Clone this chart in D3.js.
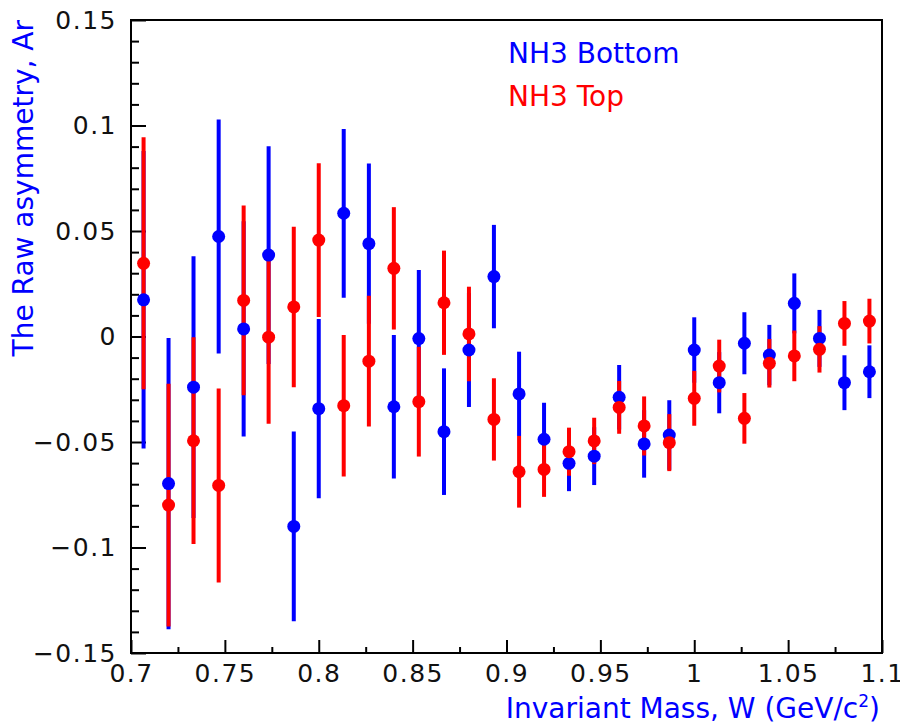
<!DOCTYPE html>
<html lang="en">
	<head>
		<meta charset="utf-8">
		<title>Raw asymmetry vs invariant mass</title>
		<script src="https://d3js.org/d3.v7.min.js"></script>
		<style>
			body { margin: 0; background: #fff; }
			text { font-family: "DejaVu Sans", sans-serif; }
		</style>
	</head>
	<body>
		<script type="text/javascript">

			//Bin centres (W, GeV/c^2)
			var wBins = [0.7067, 0.7200, 0.7333, 0.7467, 0.7600, 0.7733, 0.7867, 0.8000, 0.8133, 0.8267,
			             0.8400, 0.8533, 0.8667, 0.8800, 0.8933, 0.9067, 0.9200, 0.9333, 0.9467, 0.9600,
			             0.9733, 0.9867, 1.0000, 1.0133, 1.0267, 1.0400, 1.0533, 1.0667, 1.0800, 1.0933];

			//NH3 Bottom
			var bottomAr = [0.0174, -0.0697, -0.0240, 0.0474, 0.0036, 0.0386, -0.0900, -0.0342, 0.0584, 0.0440,
			                -0.0333, -0.0010, -0.0451, -0.0064, 0.0284, -0.0272, -0.0487, -0.0601, -0.0567, -0.0288,
			                -0.0509, -0.0467, -0.0064, -0.0219, -0.0032, -0.0088, 0.0157, -0.0009, -0.0219, -0.0167];
			var bottomErr = [0.0705, 0.0690, 0.0620, 0.0555, 0.0510, 0.0516, 0.0450, 0.0425, 0.0400, 0.0380,
			                 0.0340, 0.0325, 0.0300, 0.0270, 0.0245, 0.0200, 0.0173, 0.0132, 0.0137, 0.0153,
			                 0.0160, 0.0165, 0.0155, 0.0145, 0.0147, 0.0143, 0.0142, 0.0135, 0.0130, 0.0125];

			//NH3 Top
			var topAr = [0.0347, -0.0799, -0.0494, -0.0706, 0.0171, -0.0003, 0.0140, 0.0457, -0.0328, -0.0117,
			             0.0323, -0.0309, 0.0160, 0.0012, -0.0393, -0.0641, -0.0630, -0.0546, -0.0495, -0.0336,
			             -0.0424, -0.0503, -0.0293, -0.0140, -0.0388, -0.0127, -0.0092, -0.0061, 0.0062, 0.0073];
			var topErr = [0.0597, 0.0575, 0.0490, 0.0460, 0.0450, 0.0410, 0.0380, 0.0364, 0.0335, 0.0310,
			              0.0290, 0.0260, 0.0247, 0.0224, 0.0195, 0.0170, 0.0130, 0.0114, 0.0110, 0.0125,
			              0.0140, 0.0135, 0.0130, 0.0125, 0.0120, 0.0115, 0.0120, 0.0110, 0.0106, 0.0106];

			var xMajor = [0.7, 0.75, 0.8, 0.85, 0.9, 0.95, 1.0, 1.05, 1.1];
			var xMinor = [0.725, 0.775, 0.825, 0.875, 0.925, 0.975, 1.025, 1.075];
			var yMajor = [-0.15, -0.1, -0.05, 0, 0.05, 0.1, 0.15];
			var yMinor = d3.range(-15, 16).map(function(k) { return k / 100; })
			               .filter(function(v) { return Math.round(v * 100) % 5 != 0; });

			var legendNames = ["NH3 Bottom", "NH3 Top"];

			var w = 900;
			var h = 724;
			//frame edges (note: "top" is reserved on window, so prefix them)
			var fLeft = 131, fRight = 882, fTop = 20, fBottom = 653;

			var blue = "#0000ff";
			var red = "#ff0000";

			var x = d3.scaleLinear().domain([0.7, 1.1]).range([fLeft, fRight]);
			var y = d3.scaleLinear().domain([-0.15, 0.15]).range([fBottom, fTop]);

			var svg = d3.select("body")
						.append("svg")
						.attr("width", w)
						.attr("height", h);

			var fmt = function(d) { return (d < 0 ? "\u2212" : "") + d3.format("")(Math.abs(d)); };

			//y axis, ticks inside the frame
			svg.append("g")
				.attr("transform", "translate(" + fLeft + ",0)")
				.call(d3.axisLeft(y).tickValues(yMajor).tickSize(-15).tickPadding(14).tickFormat(fmt));
			svg.append("g")
				.attr("transform", "translate(" + fLeft + ",0)")
				.call(d3.axisLeft(y).tickValues(yMinor).tickSize(-8).tickFormat(""));

			//x axis
			svg.append("g")
				.attr("transform", "translate(0," + fBottom + ")")
				.call(d3.axisBottom(x).tickValues(xMajor).tickSize(-13).tickPadding(11).tickFormat(fmt));
			svg.append("g")
				.attr("transform", "translate(0," + fBottom + ")")
				.call(d3.axisBottom(x).tickValues(xMinor).tickSize(-6).tickFormat(""));

			svg.selectAll(".domain").remove();
			svg.selectAll(".tick line").attr("stroke", "#000").attr("stroke-width", 2);
			svg.selectAll(".tick text")
				.attr("fill", "#111")
				.style("font-size", "25px")
				.style("letter-spacing", "1.5px");

			//frame
			svg.append("rect")
				.attr("x", fLeft)
				.attr("y", fTop)
				.attr("width", fRight - fLeft)
				.attr("height", fBottom - fTop)
				.attr("fill", "none")
				.attr("stroke", "#000")
				.attr("stroke-width", 2);

			//axis titles
			svg.append("text")
				.attr("transform", "translate(33," + fTop + ") rotate(-90)")
				.attr("text-anchor", "end")
				.attr("fill", blue)
				.style("font-size", "28px")
				.text("The Raw asymmetry, Ar");

			var xTitle = svg.append("text")
				.attr("x", 880)
				.attr("y", 718)
				.attr("text-anchor", "end")
				.attr("fill", blue)
				.style("font-size", "28px");
			xTitle.append("tspan").text("Invariant Mass, W (GeV/c");
			xTitle.append("tspan").attr("dy", -11).style("font-size", "17px").text("2");
			xTitle.append("tspan").attr("dy", 11).text(")");

			//points
			var series = [
				{ vals: bottomAr, errs: bottomErr, color: blue },
				{ vals: topAr, errs: topErr, color: red }
			];

			//error bars first (blue then red), then markers
			series.forEach(function(s) {
				svg.append("g").selectAll("line")
					.data(wBins)
					.enter()
					.append("line")
					.attr("x1", function(d) { return x(d); })
					.attr("x2", function(d) { return x(d); })
					.attr("y1", function(d, i) { return y(s.vals[i] + s.errs[i]); })
					.attr("y2", function(d, i) { return y(s.vals[i] - s.errs[i]); })
					.attr("stroke", s.color)
					.attr("stroke-width", 4);
			});
			series.forEach(function(s) {
				svg.append("g").selectAll("circle")
					.data(wBins)
					.enter()
					.append("circle")
					.attr("cx", function(d) { return x(d); })
					.attr("cy", function(d, i) { return y(s.vals[i]); })
					.attr("r", 6.5)
					.attr("fill", s.color);
			});

			//legend
			svg.selectAll(".legend")
				.data(legendNames)
				.enter()
				.append("text")
				.attr("class", "legend")
				.attr("x", 508)
				.attr("y", function(d, i) { return 63 + i * 43; })
				.attr("fill", function(d, i) { return i == 0 ? blue : red; })
				.style("font-size", "28px")
				.text(function(d) { return d; });

		</script>
	</body>
</html>
